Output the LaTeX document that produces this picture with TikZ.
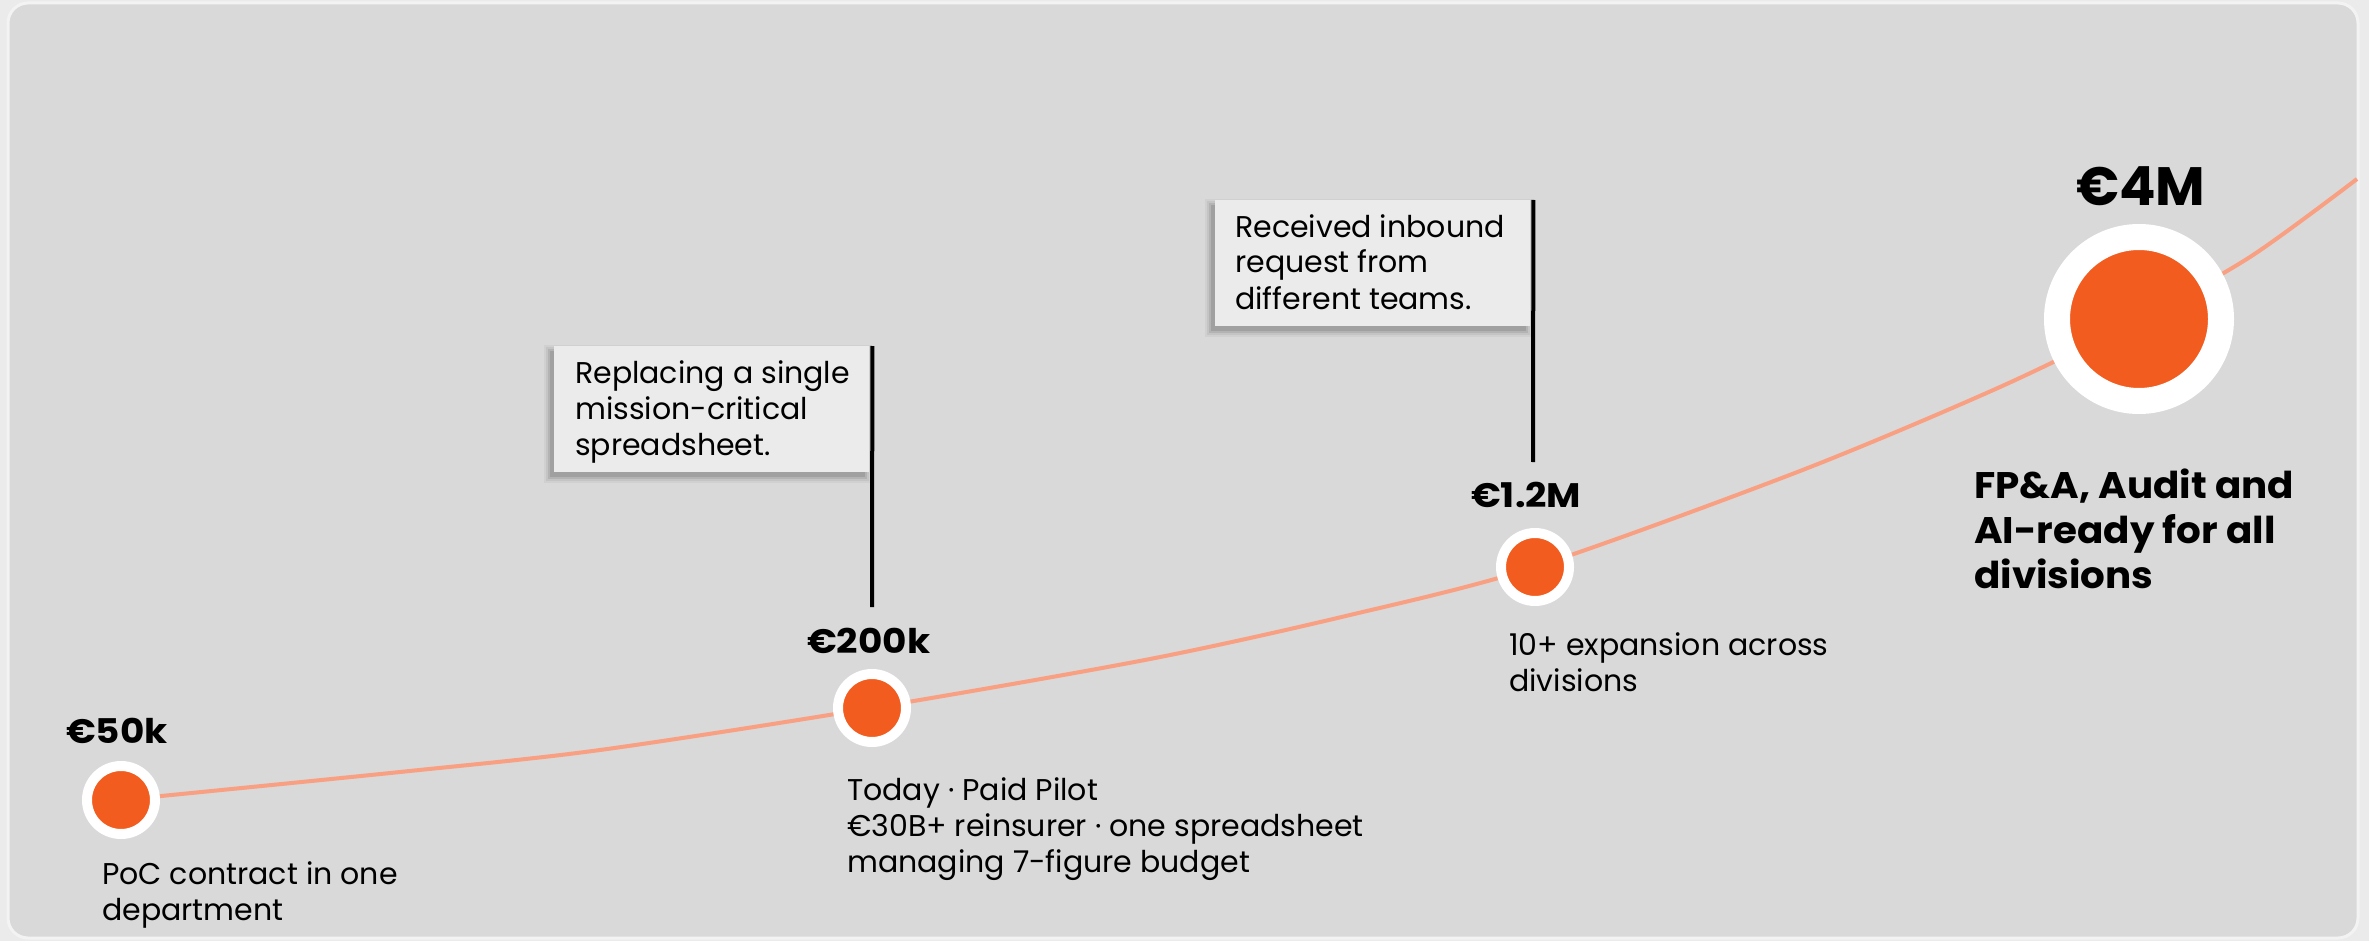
\documentclass[tikz,border=0pt]{standalone}
\usepackage{fontspec}
\setmainfont{Poppins}
\newfontfamily\amountfont[FakeStretch=1.1]{Poppins}
\newfontfamily\headfont[FakeStretch=1.05]{Poppins}
\usetikzlibrary{calc}
\definecolor{outerbg}{HTML}{EBEBEB}
\definecolor{panelbg}{HTML}{D9D9D9}
\definecolor{panelrim}{HTML}{F3F3F3}
\definecolor{dotorange}{HTML}{F25C1F}
\definecolor{curvecol}{HTML}{F9A082}
\definecolor{calloutbg}{HTML}{EBEBEB}
\begin{document}
\begin{tikzpicture}[x=1pt,y=-1pt,
  body/.style={font=\fontsize{30}{36}\selectfont, align=left, inner sep=0, anchor=base west},
  amount/.style={font=\amountfont\fontsize{34}{40}\selectfont\bfseries, inner sep=0, anchor=base west},
  bigamount/.style={font=\fontsize{54}{60}\selectfont\bfseries, inner sep=0, anchor=base west},
  bigtext/.style={font=\headfont\fontsize{37}{45}\selectfont\bfseries, align=left, inner sep=0, anchor=base west},
  dot/.style={circle, draw=white, line width=10pt, fill=dotorange, minimum size=68pt, inner sep=0},
  bigdot/.style={circle, draw=white, line width=26pt, fill=dotorange, minimum size=164pt, inner sep=0},
  callout/.style={rectangle, fill=calloutbg, inner sep=0, anchor=north west, minimum width=315pt, minimum height=126pt},
  leader/.style={draw=black, line width=4pt},
  trend/.style={draw=curvecol, line width=4pt}
]
\useasboundingbox (0,0) rectangle (2369,941);
\fill[outerbg] (0,0) rectangle (2369,941);
\draw[panelrim, line width=3pt, fill=panelbg, rounded corners=20pt] (8,3) rectangle (2358,938);

% trend curve
\coordinate (p1) at (121,800);
\coordinate (p2) at (872,708);
\coordinate (p3) at (1535,567);
\coordinate (p4) at (2139,319);
\coordinate (pend) at (2357,179);
\draw[trend] plot[smooth, tension=0.5] coordinates {(p1) (400,772) (600,750) (p2) (1150,659) (1350,615) (p3) (1800,471) (2000,387) (p4) (2250,257) (pend)};

% callout shadows
\foreach \e/\o in {0/0.10,2/0.08,4/0.06,6/0.04} {
  \fill[black, opacity=\o] (550-\e,351-\e) rectangle (865+\e,477+\e);
  \fill[black, opacity=\o] (1211-\e,205-\e) rectangle (1526+\e,331+\e);
}

% callouts
\node[callout] (c1) at (554,346) {};
\node[body] (c1t) at (575,455) {Replacing a single\\mission-critical\\spreadsheet.};
\coordinate (c1end) at (872,607);
\draw[leader] ($(c1.north east)+(3,0)$) -- (c1end);

\node[callout] (c2) at (1215,200) {};
\node[body] (c2t) at (1235,309) {Received inbound\\request from\\different teams.};
\coordinate (c2end) at (1533,462);
\draw[leader] ($(c2.north east)+(3,0)$) -- (c2end);

% dots
\node[dot] (d1) at (p1) {};
\node[dot] (d2) at (p2) {};
\node[dot] (d3) at (p3) {};
\node[bigdot] (d4) at (p4) {};

% labels
\node[amount] (a1) at (66,743) {€50k};
\node[body] (t1) at (102,920) {PoC contract in one\\department};

\node[amount] (a2) at (807,653) {€200k};
\node[body] (t2) at (847,872) {Today · Paid Pilot\\€30B+ reinsurer · one spreadsheet\\managing 7-figure budget};

\node[amount] (a3) at (1471,507) {€1.2M};
\node[body] (t3) at (1509,691) {10+ expansion across\\divisions};

\node[bigamount] (a4) at (2076,206) {€4M};
\node[bigtext] (t4) at (1974,588) {FP\&A, Audit and\\AI-ready for all\\divisions};
\end{tikzpicture}
\end{document}
